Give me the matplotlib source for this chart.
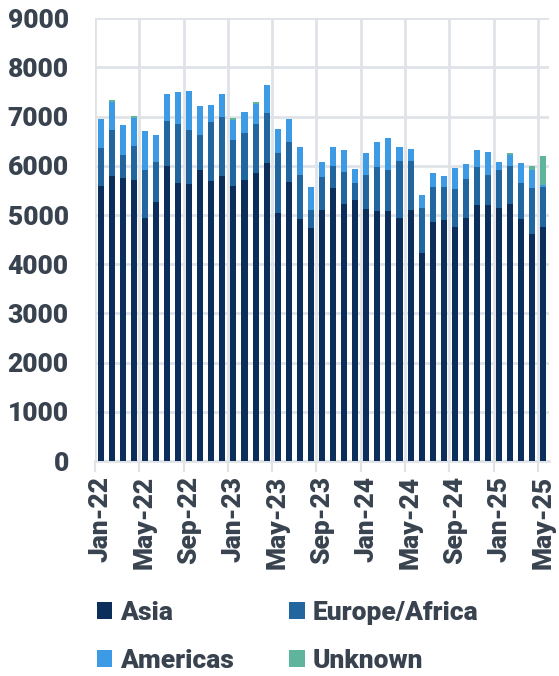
import matplotlib
matplotlib.use("Agg")
import matplotlib.pyplot as plt
import numpy as np
from matplotlib.patches import Patch

plt.rcParams['font.family'] = ['Roboto', 'DejaVu Sans']
plt.rcParams['font.weight'] = 'bold'

months = ["Jan-22", "Feb-22", "Mar-22", "Apr-22", "May-22", "Jun-22", "Jul-22", "Aug-22",
          "Sep-22", "Oct-22", "Nov-22", "Dec-22", "Jan-23", "Feb-23", "Mar-23", "Apr-23",
          "May-23", "Jun-23", "Jul-23", "Aug-23", "Sep-23", "Oct-23", "Nov-23", "Dec-23",
          "Jan-24", "Feb-24", "Mar-24", "Apr-24", "May-24", "Jun-24", "Jul-24", "Aug-24",
          "Sep-24", "Oct-24", "Nov-24", "Dec-24", "Jan-25", "Feb-25", "Mar-25", "Apr-25",
          "May-25"]

asia = [5590, 5786, 5752, 5705, 4932, 5264, 6003, 5651,
        5630, 5915, 5691, 5786, 5583, 5712, 5861, 6064,
        5047, 5671, 4919, 4735, 5102, 5549, 5224, 5298,
        5122, 5075, 5088, 4932, 5108, 4220, 4851, 4898,
        4756, 4946, 5204, 5210, 5142, 5231, 4919, 4620,
        4763]
europe_africa = [773, 943, 475, 692, 983, 807, 909, 1200,
                 1099, 719, 1201, 1207, 936, 956, 983, 1004,
                 1214, 814, 895, 367, 664, 448, 651, 353,
                 692, 901, 827, 1166, 990, 916, 712, 671,
                 773, 786, 772, 604, 773, 766, 739, 936,
                 806]
americas = [583, 569, 597, 583, 793, 549, 556, 644,
            786, 583, 339, 475, 413, 420, 414, 583,
            495, 474, 562, 461, 305, 379, 454, 285,
            440, 509, 658, 292, 244, 271, 284, 231,
            427, 298, 339, 467, 170, 217, 400, 366,
            41]
unknown = [0, 34, 0, 34, 0, 0, 0, 0,
           0, 0, 0, 0, 34, 0, 34, 0,
           0, 0, 0, 0, 0, 0, 0, 0,
           0, 0, 0, 0, 0, 0, 0, 0,
           0, 0, 0, 0, 0, 47, 0, 81,
           590]

series_names = ["Asia", "Europe/Africa", "Americas", "Unknown"]
colors = ["#0b2f5a", "#21669e", "#3d9be6", "#5fb49c"]
yticks = [0, 1000, 2000, 3000, 4000, 5000, 6000, 7000, 8000, 9000]

text_color = "#38434f"
grid_color = "#dfe3e8"
FW = 'heavy'

fig = plt.figure(figsize=(5.59, 6.76), dpi=100)
ax = fig.add_axes([0.170, 0.318, 0.812, 0.655])

x = np.arange(len(months))
bottom = np.zeros(len(months))
for vals, name, c in zip([asia, europe_africa, americas, unknown], series_names, colors):
    v = np.array(vals, dtype=float)
    ax.bar(x, v, bottom=bottom, width=0.55, color=c, label=name, zorder=3)
    bottom += v

ax.set_xlim(-0.5, len(months) - 0.5)
ax.set_ylim(0, 9000)
ax.set_yticks(yticks)
ax.set_yticklabels([str(t) for t in yticks], fontsize=19, color=text_color, fontweight=FW)
ax.tick_params(axis='y', length=0, pad=19)

# boundaries every 4 months (tick marks + vertical gridlines)
bpos = np.arange(0, len(months), 4) - 0.5
ax.set_xticks(bpos)
ax.set_xticklabels([""] * len(bpos))
ax.tick_params(axis='x', which='major', length=8, width=1.5, color=grid_color)
lab_idx = np.arange(0, len(months), 4)
ax.set_xticks(lab_idx, minor=True)
ax.set_xticklabels([months[i] for i in lab_idx], minor=True, rotation=90,
                   fontsize=19, color=text_color, fontweight=FW)
ax.tick_params(axis='x', which='minor', length=0, pad=11)

ax.grid(True, which='major', color=grid_color, linewidth=2, zorder=0)
ax.set_axisbelow(True)
for s in ['top', 'right', 'left']:
    ax.spines[s].set_visible(False)
ax.spines['bottom'].set_color(grid_color)
ax.spines['bottom'].set_linewidth(2)

order = [0, 2, 1, 3]  # row-wise order: Asia, Europe/Africa / Americas, Unknown
handles = [Patch(facecolor=colors[i], edgecolor='none') for i in order]
labels = [series_names[i] for i in order]
leg = fig.legend(handles, labels, ncol=2, loc='upper left',
                 bbox_to_anchor=(0.1727, 1 - 601 / 676), frameon=False,
                 fontsize=19, handlelength=0.6, handleheight=0.6,
                 handletextpad=0.28, columnspacing=2.12, labelspacing=0.9,
                 borderaxespad=0, borderpad=0)
for t in leg.get_texts():
    t.set_color(text_color)
    t.set_fontweight(FW)

fig.savefig("out.png", dpi=100)
